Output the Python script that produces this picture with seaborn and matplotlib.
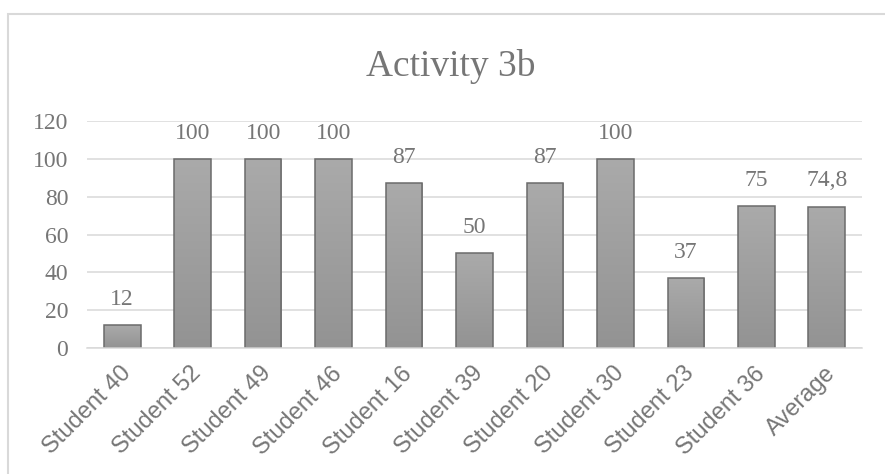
import numpy as np
import pandas as pd
import matplotlib
matplotlib.use("Agg")
import matplotlib.pyplot as plt
import matplotlib.transforms as mtransforms
from matplotlib.patches import Rectangle
import seaborn as sns

# Scores for activity 3b
students = ["Student 40", "Student 52", "Student 49", "Student 46", "Student 16",
            "Student 39", "Student 20", "Student 30", "Student 23", "Student 36",
            "Average"]
scores = [12, 100, 100, 100, 87, 50, 87, 100, 37, 75, 74.8]
y_ticks = [0, 20, 40, 60, 80, 100, 120]
title = "Activity 3b"

sns.set_theme(style="white")
plt.rcParams["font.family"] = ["Liberation Serif", "DejaVu Serif"]

TEXT = "#767676"
GRID = "#d9d9d9"

df = pd.DataFrame({"student": students, "score": scores})

fig = plt.figure(figsize=(8.85, 4.74), dpi=100)
ax = fig.add_axes([87 / 885, 1 - 348 / 474, 775 / 885, 227 / 474])

sns.barplot(data=df, x="student", y="score", color="#a0a0a0", saturation=1,
            width=0.52, edgecolor="#6b6b6b", linewidth=1.1, ax=ax, zorder=3)

# vertical gradient fill for each bar
grad = np.linspace(0, 1, 256).reshape(-1, 1)
cmap = matplotlib.colors.LinearSegmentedColormap.from_list("g", ["#939393", "#aaaaaa"])
for p in ax.patches:
    x0, y0 = p.get_x(), p.get_y()
    w, h = p.get_width(), p.get_height()
    im = ax.imshow(grad, extent=[x0, x0 + w, y0, y0 + h], origin="lower",
                   aspect="auto", cmap=cmap, zorder=3.5)
    im.set_clip_path(p)
    p.set_facecolor("none")
    p.set_zorder(4)

ax.set_xlim(-0.5, len(students) - 0.5)
ax.set_ylim(0, 120)
ax.set_yticks(y_ticks)
ax.set_yticklabels([str(t) for t in y_ticks])
ax.grid(axis="y", color=GRID, linewidth=1.1, zorder=0)
ax.set_axisbelow(True)
for s in ["left", "right", "top"]:
    ax.spines[s].set_visible(False)
ax.spines["bottom"].set_color(GRID)
ax.spines["bottom"].set_linewidth(1.1)
ax.spines["bottom"].set_zorder(5)
ax.set_xlabel("")
ax.set_ylabel("")
ax.tick_params(axis="y", length=0, pad=13.5, labelsize=17, labelcolor=TEXT)
ax.tick_params(axis="x", length=0, pad=16, labelcolor=TEXT)
shift = mtransforms.ScaledTranslation(5 / 100, 0, fig.dpi_scale_trans)
for lbl in ax.get_xticklabels():
    lbl.set_family(["Liberation Sans", "DejaVu Sans"])
    lbl.set_fontsize(17)
    lbl.set_rotation(45)
    lbl.set_ha("right")
    lbl.set_va("center")
    lbl.set_rotation_mode("anchor")
    lbl.set_transform(lbl.get_transform() + shift)

# value labels above bars
for i, v in enumerate(scores):
    ax.annotate(f"{v:g}".replace(".", ","), xy=(i, v), xytext=(0, 14.5),
                textcoords="offset points", ha="center", va="baseline",
                fontsize=17, color=TEXT, zorder=6)

fig.text(451 / 885, 1 - 76 / 474, title, ha="center", va="baseline",
         fontsize=27, color=TEXT)

# chart area border
fig.patches.append(Rectangle((8 / 885, -0.2), 1.2, 1.2 - 14 / 474,
                             transform=fig.transFigure, fill=False,
                             edgecolor=GRID, linewidth=1.5, clip_on=False))

fig.savefig("out.png", dpi=100, facecolor="white")
